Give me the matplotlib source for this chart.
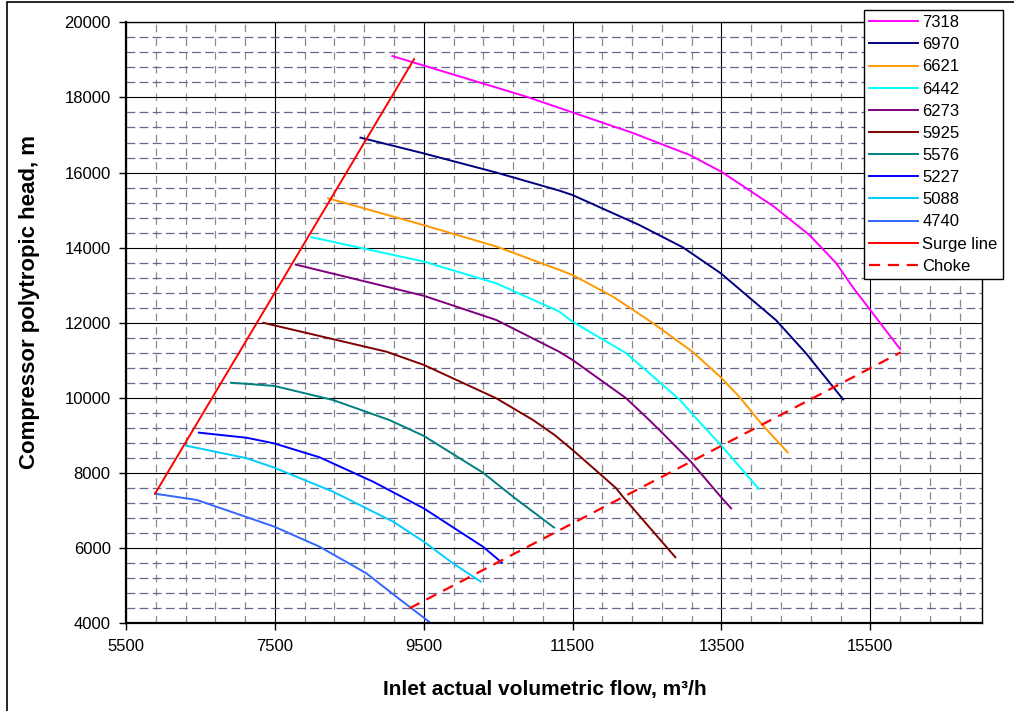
import matplotlib
matplotlib.use("Agg")
import matplotlib.pyplot as plt
from matplotlib.patches import Rectangle
from matplotlib.ticker import MultipleLocator, FixedLocator

plt.rcParams["font.family"] = ["Liberation Sans", "DejaVu Sans"]

# Speed lines (rpm): inlet flow (m3/h) and polytropic head (m)
flow_7318 = [9080, 10880, 11500, 12300, 13070, 13500, 14200, 14680, 15040, 15260, 15900]
head_7318 = [19100, 18020, 17600, 17060, 16470, 16020, 15100, 14340, 13590, 12960, 11300]

flow_6970 = [8650, 9500, 10475, 11320, 11500, 12400, 12980, 13490, 13780, 14230, 14635, 15135]
head_6970 = [16930, 16510, 16000, 15520, 15400, 14600, 14010, 13320, 12830, 12075, 11190, 9960]

flow_6621 = [8215, 9500, 10475, 11320, 11500, 12040, 12580, 13110, 13490, 13740, 14050, 14390]
head_6621 = [15315, 14600, 14030, 13410, 13270, 12700, 11990, 11230, 10550, 10030, 9280, 8550]

flow_6442 = [7990, 9500, 10475, 11320, 11500, 12220, 12935, 13180, 13490, 14000]
head_6442 = [14280, 13630, 13050, 12300, 12030, 11190, 9960, 9410, 8750, 7580]

flow_6273 = [7780, 9500, 10475, 11320, 11500, 12220, 12530, 12710, 13090, 13490, 13630]
head_6273 = [13550, 12720, 12075, 11230, 11010, 9990, 9410, 9060, 8300, 7370, 7060]

flow_5925 = [7345, 9000, 9500, 10475, 10970, 11260, 11500, 11860, 12085, 12175, 12880]
head_5925 = [12000, 11230, 10880, 9990, 9410, 9010, 8615, 7990, 7595, 7370, 5760]

flow_5576 = [6910, 7490, 8280, 9040, 9500, 10295, 10700, 11250]
head_5576 = [10405, 10320, 9945, 9410, 8990, 8010, 7370, 6550]

flow_5227 = [6480, 7120, 7490, 8100, 8820, 9500, 10295, 10550]
head_5227 = [9075, 8940, 8790, 8420, 7770, 7060, 6040, 5615]

flow_5088 = [6305, 7120, 7490, 8280, 9090, 9500, 9890, 10265]
head_5088 = [8730, 8395, 8145, 7505, 6705, 6175, 5600, 5110]

flow_4740 = [5890, 6450, 7490, 8100, 8730, 9130, 9570]
head_4740 = [7450, 7285, 6575, 6040, 5330, 4710, 4045]

surge_flow = [5890, 9370]
surge_head = [7450, 19020]

choke_flow = [9310, 15910]
choke_head = [4400, 11215]

speeds = ["7318", "6970", "6621", "6442", "6273", "5925", "5576", "5227", "5088", "4740"]
flows = [flow_7318, flow_6970, flow_6621, flow_6442, flow_6273,
         flow_5925, flow_5576, flow_5227, flow_5088, flow_4740]
heads = [head_7318, head_6970, head_6621, head_6442, head_6273,
         head_5925, head_5576, head_5227, head_5088, head_4740]
colors = ["#FF00FF", "#000080", "#FF9900", "#00FFFF", "#800080",
          "#800000", "#008080", "#0000FF", "#00CCFF", "#3366FF"]

x_ticks = [5500, 7500, 9500, 11500, 13500, 15500]
y_ticks = [4000, 6000, 8000, 10000, 12000, 14000, 16000, 18000, 20000]

W, H = 1014, 711
fig = plt.figure(figsize=(W / 100, H / 100), dpi=100)
ax = fig.add_axes([126 / W, 1 - 623.3 / H, (982 - 126) / W, (623.3 - 22.3) / H])

ax.set_xlim(5500, 17000)
ax.set_ylim(4000, 20000)
ax.xaxis.set_major_locator(FixedLocator(x_ticks))
ax.yaxis.set_major_locator(FixedLocator(y_ticks))
ax.xaxis.set_minor_locator(FixedLocator([5500 + 400 * i for i in range(29)]))
ax.yaxis.set_minor_locator(MultipleLocator(400))

# gridlines: solid major, dashed minor
ax.set_axisbelow(True)
ax.grid(which="major", color="black", linewidth=0.8, linestyle="-")
ax.xaxis.grid(which="minor", color="#8a8a8a", linewidth=0.9, linestyle=(0, (6, 5)))
ax.yaxis.grid(which="minor", color="#66668f", linewidth=0.9, linestyle=(0, (7, 3.5)))

ax.tick_params(which="major", direction="out", length=5, width=1, labelsize=12,
               colors="black", pad=6)
ax.tick_params(which="minor", length=0)
for side in ["left", "bottom"]:
    ax.spines[side].set_linewidth(1.6)
for side in ["top", "right"]:
    ax.spines[side].set_linewidth(1.0)
for s in ax.spines.values():
    s.set_color("black")

for f, h, c, lab in zip(flows, heads, colors, speeds):
    ax.plot(f, h, color=c, linewidth=1.4, label=lab)
ax.plot(surge_flow, surge_head, color="#FF0000", linewidth=1.4, label="Surge line")
ax.plot(choke_flow, choke_head, color="#FF0000", linewidth=1.6,
        linestyle=(0, (5, 3.5)), label="Choke")

leg = ax.legend(loc="upper left", bbox_to_anchor=(864 / W, 1 - 10 / H),
                bbox_transform=fig.transFigure, borderaxespad=0,
                fontsize=12, frameon=True, fancybox=False, framealpha=1,
                edgecolor="black", handlelength=2.95, handletextpad=0.25,
                labelspacing=0.43, borderpad=0.3)
leg.get_frame().set_linewidth(1.0)

fig.text(545 / W, 1 - 690 / H, "Inlet actual volumetric flow, m³/h",
         ha="center", va="center", fontsize=15, fontweight="bold")
fig.text(30 / W, 1 - 302 / H, "Compressor polytropic head, m",
         ha="center", va="center", rotation=90, fontsize=16, fontweight="bold")

# chart-area border
fig.patches.append(Rectangle((7 / W, -0.05), 1.2, 1.05 - 2.5 / H,
                             transform=fig.transFigure, fill=False,
                             edgecolor="black", linewidth=1.2))

fig.savefig("out.png", dpi=100)
